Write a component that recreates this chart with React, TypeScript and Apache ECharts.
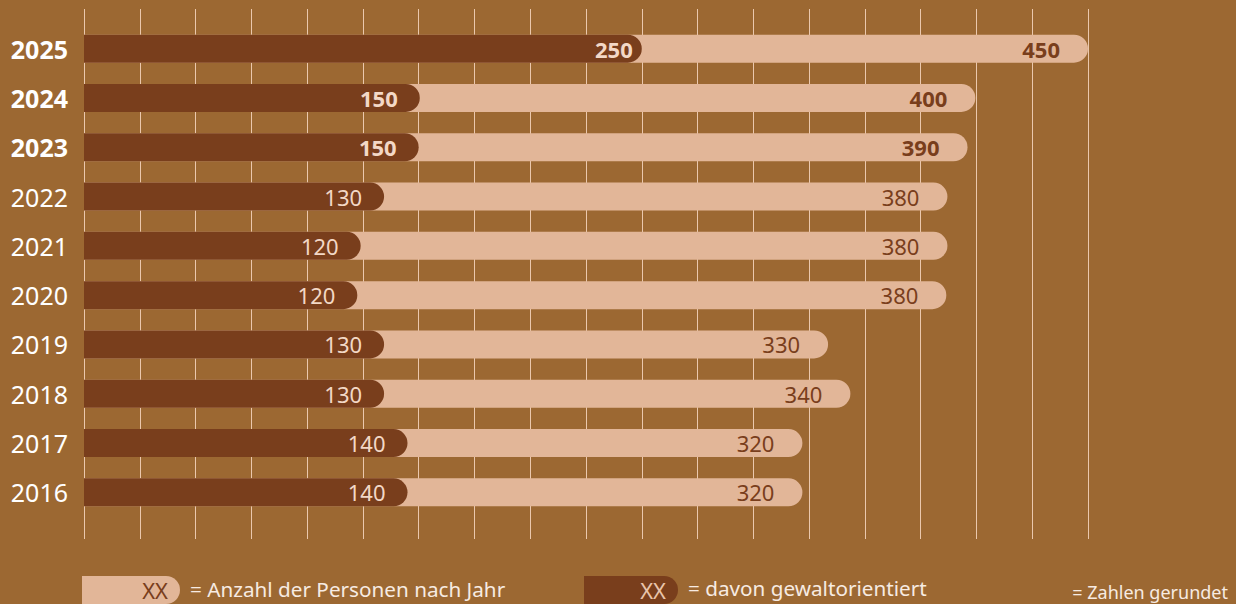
import React, { useEffect, useRef } from "react";
import * as echarts from "echarts";

// Years, top to bottom
const years = ["2025", "2024", "2023", "2022", "2021", "2020", "2019", "2018", "2017", "2016"];
const boldYears = ["2025", "2024", "2023"];
// Unrounded values — the chart shows rounded numbers
const totalValues = [450, 399.5, 396, 387, 387, 386.5, 333.5, 343.5, 322, 322];
const violentValues = [250, 150.5, 150, 134.5, 124, 122.5, 134.5, 134.5, 145, 145];
// Rounded labels as printed
const totalLabels = [450, 400, 390, 380, 380, 380, 330, 340, 320, 320];
const violentLabels = [250, 150, 150, 130, 120, 120, 130, 130, 140, 140];

const BG = "#9c6832";
const LIGHT = "#e2b698";
const DARK = "#793e1c";
const CREAM = "#f7ebe2";
const FONT = "Noto Sans";

export default function App() {
  const ref = useRef<HTMLDivElement>(null);
  useEffect(() => {
    document.body.style.margin = "0";
    document.body.style.background = BG;
    const chart = echarts.init(ref.current!, null, { renderer: "svg" });
    const option = {
      animation: false,
      backgroundColor: BG,
      textStyle: { fontFamily: FONT },
      grid: [
        { left: 84, width: 1004, top: 9, height: 530 },
        { left: 84, width: 1004, top: 24, height: 493 },
      ],
      xAxis: [
        {
          gridIndex: 0,
          type: "value",
          min: 0,
          max: 450,
          interval: 25,
          axisLine: { show: false },
          axisTick: { show: false },
          axisLabel: { show: false },
          splitLine: { show: true, lineStyle: { color: "#ebc8ad", width: 1 } },
        },
        {
          gridIndex: 1,
          type: "value",
          min: 0,
          max: 450,
          show: false,
          splitLine: { show: false },
        },
      ],
      yAxis: [
        {
          gridIndex: 0,
          type: "value",
          min: 0,
          max: 1,
          show: false,
          splitLine: { show: false },
        },
        {
          gridIndex: 1,
          type: "category",
          inverse: true,
          data: years,
          axisLine: { show: false },
          axisTick: { show: false },
          axisLabel: {
            margin: 16,
            fontFamily: FONT,
            fontSize: 25,
            color: "#ffffff",
            formatter: (v: string) => (boldYears.includes(v) ? `{b|${v}}` : `{n|${v}}`),
            rich: {
              b: { fontFamily: FONT, fontSize: 25, fontWeight: "bold", color: "#ffffff" },
              n: { fontFamily: FONT, fontSize: 25, color: "#ffffff" },
            },
          },
        },
      ],
      series: [
        {
          type: "bar",
          xAxisIndex: 1,
          yAxisIndex: 1,
          barWidth: 28,
          barGap: "-100%",
          itemStyle: { color: LIGHT, borderRadius: [0, 14, 14, 0] },
          data: totalValues.map((v, i) => ({
            value: v,
            label: {
              show: true,
              position: "insideRight",
              distance: 28,
              fontFamily: FONT,
              fontSize: 22,
              color: DARK,
              fontWeight: boldYears.includes(years[i]) ? "bold" : "normal",
              formatter: () => String(totalLabels[i]),
            },
          })),
        },
        {
          type: "bar",
          xAxisIndex: 1,
          yAxisIndex: 1,
          barWidth: 28,
          barGap: "-100%",
          itemStyle: { color: DARK, borderRadius: [0, 14, 14, 0] },
          data: violentValues.map((v, i) => ({
            value: v,
            label: {
              show: true,
              position: "insideRight",
              distance: i === 0 ? 9 : 22,
              fontFamily: FONT,
              fontSize: 22,
              color: "#f3d8c6",
              fontWeight: boldYears.includes(years[i]) ? "bold" : "normal",
              formatter: () => String(violentLabels[i]),
            },
          })),
        },
      ],
      graphic: [
        {
          type: "rect",
          shape: { x: 82, y: 576, width: 98, height: 28, r: [0, 14, 14, 0] },
          style: { fill: LIGHT },
        },
        {
          type: "text",
          x: 168,
          y: 590,
          style: {
            text: "XX",
            fontFamily: FONT,
            fontSize: 22,
            fill: DARK,
            align: "right",
            verticalAlign: "middle",
          },
        },
        {
          type: "text",
          x: 190,
          y: 589,
          style: {
            text: "= Anzahl der Personen nach Jahr",
            fontFamily: FONT,
            fontSize: 20.7,
            fill: CREAM,
            verticalAlign: "middle",
          },
        },
        {
          type: "rect",
          shape: { x: 584, y: 576, width: 94, height: 28, r: [0, 14, 14, 0] },
          style: { fill: DARK },
        },
        {
          type: "text",
          x: 666,
          y: 590,
          style: {
            text: "XX",
            fontFamily: FONT,
            fontSize: 22,
            fill: "#e9c4aa",
            align: "right",
            verticalAlign: "middle",
          },
        },
        {
          type: "text",
          x: 688,
          y: 588,
          style: {
            text: "= davon gewaltorientiert",
            fontFamily: FONT,
            fontSize: 20.7,
            fill: CREAM,
            verticalAlign: "middle",
          },
        },
        {
          type: "text",
          x: 1228,
          y: 592,
          style: {
            text: "= Zahlen gerundet",
            fontFamily: FONT,
            fontSize: 18,
            fill: CREAM,
            align: "right",
            verticalAlign: "middle",
          },
        },
      ],
    };
    chart.setOption(option as any);
    return () => chart.dispose();
  }, []);
  return (
    <div
      ref={ref}
      style={{ position: "fixed", left: 0, top: 0, width: 1236, height: 604, background: BG }}
    />
  );
}
